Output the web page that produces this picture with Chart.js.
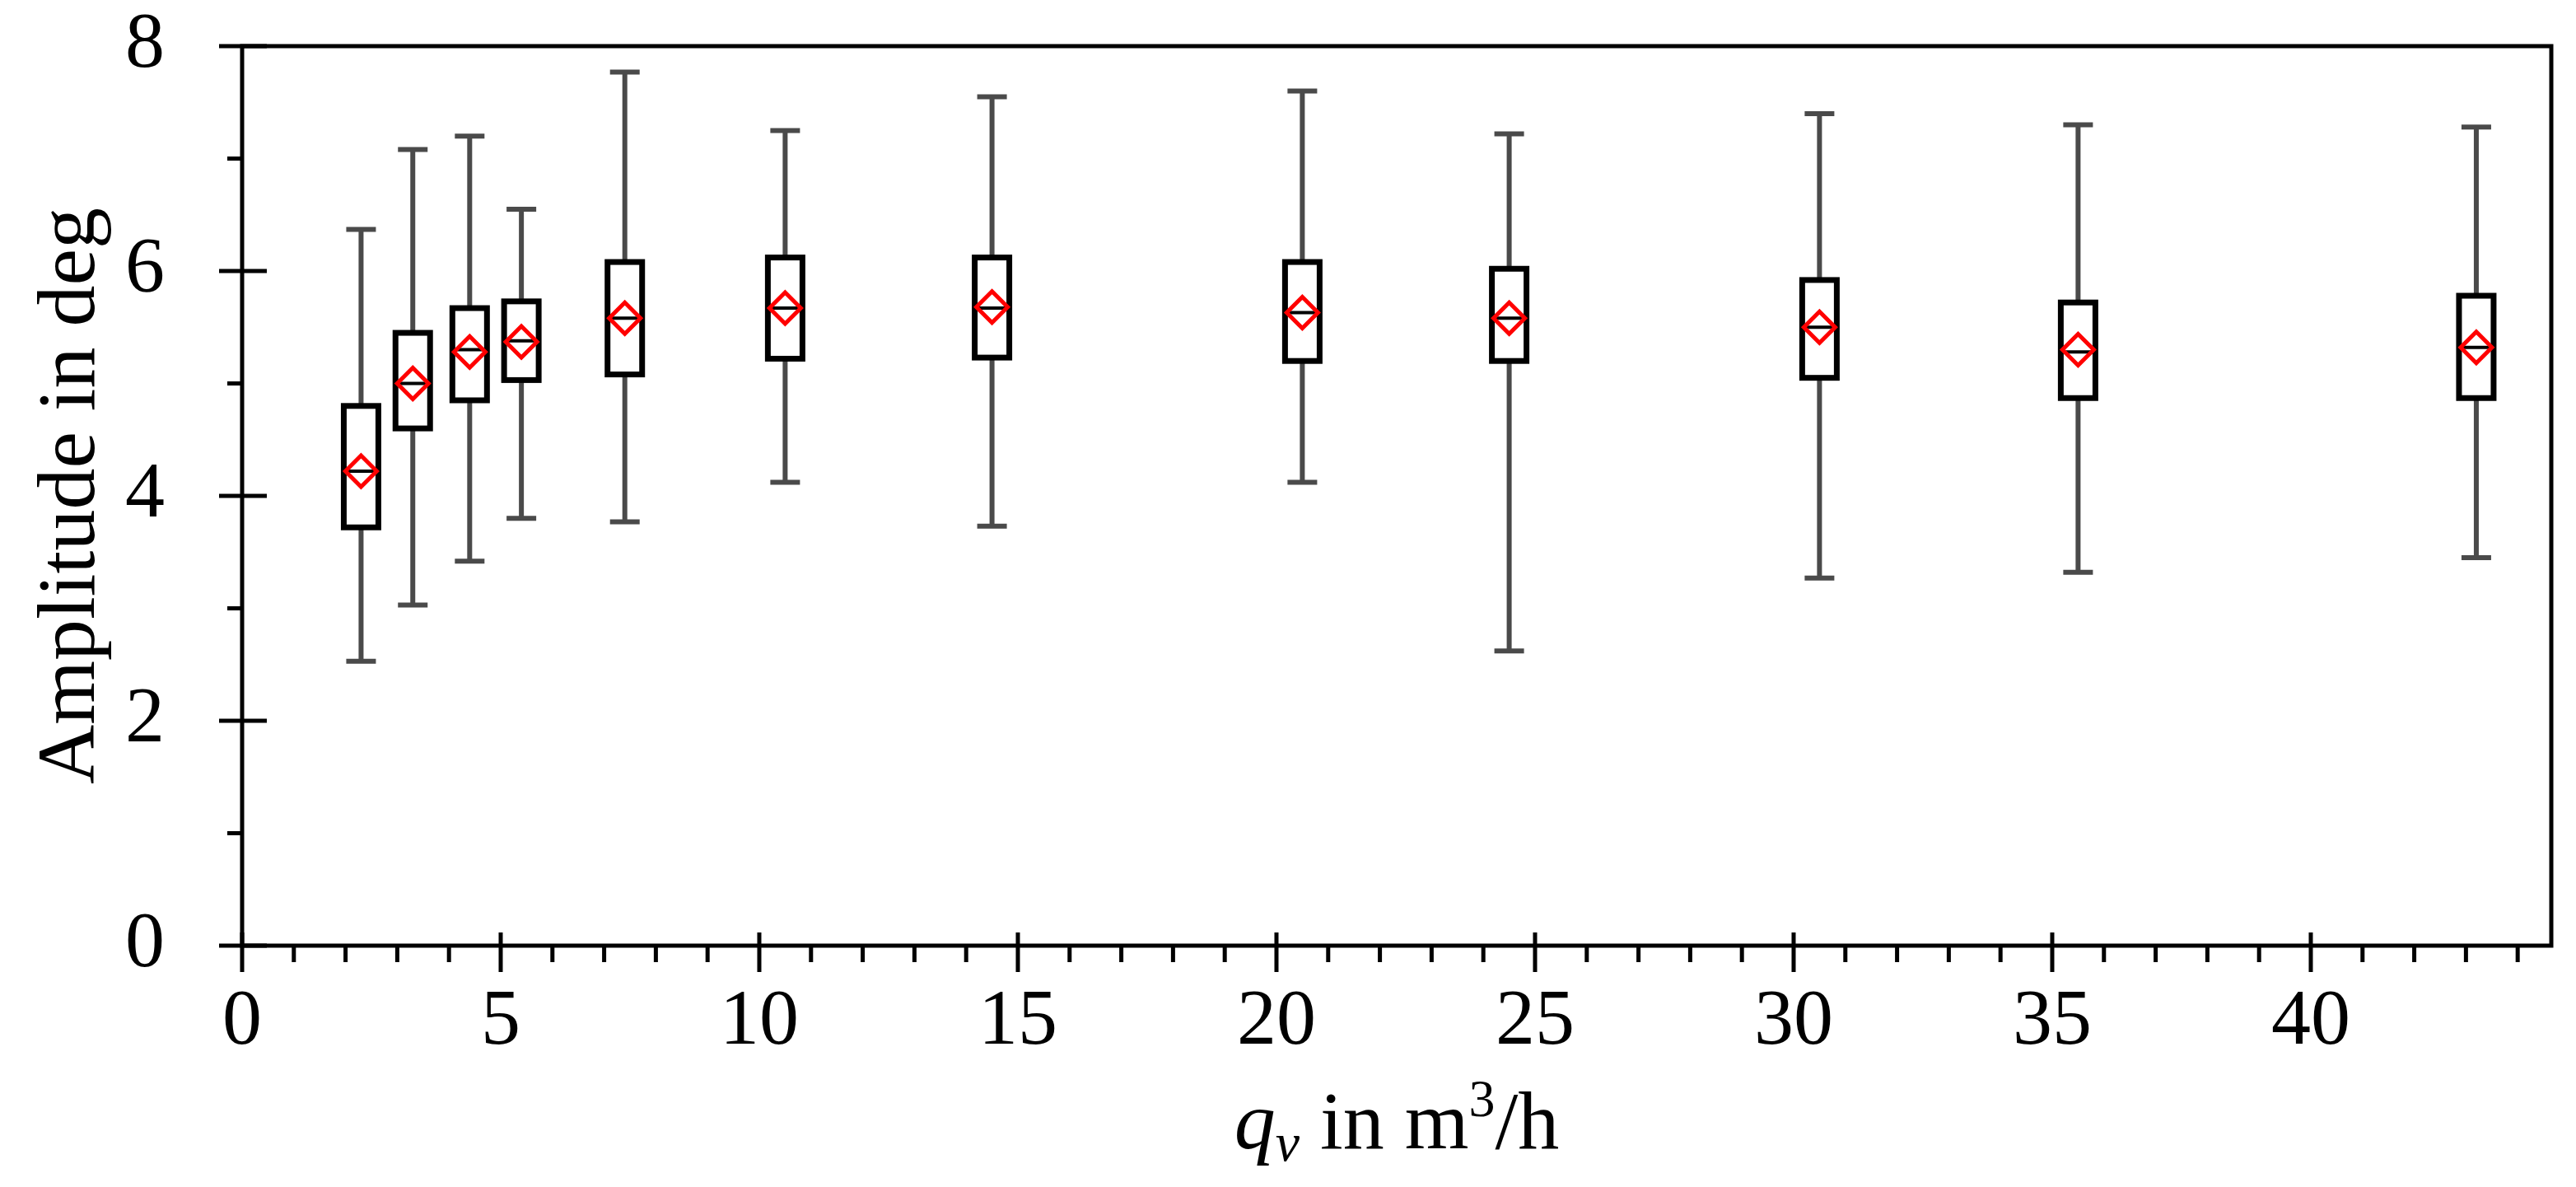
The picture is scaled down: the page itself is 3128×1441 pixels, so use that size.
<!DOCTYPE html>
<html><head><meta charset="utf-8">
<script src="https://cdn.jsdelivr.net/npm/chart.js@4/dist/chart.umd.min.js"></script>
<style>html,body{margin:0;padding:0;background:#fff}#w{width:3128px;height:1441px}</style>
</head><body><div id="w"><canvas id="c"></canvas></div>
<script>
const flowRates   = [2.3, 3.3, 4.4, 5.4, 7.4, 10.5, 14.5, 20.5, 24.5, 30.5, 35.5, 43.2];
const whiskerLow  = [2.53, 3.03, 3.42, 3.80, 3.77, 4.12, 3.73, 4.12, 2.62, 3.27, 3.32, 3.45];
const quart1      = [3.72, 4.60, 4.85, 5.03, 5.08, 5.22, 5.23, 5.20, 5.20, 5.05, 4.87, 4.87];
const medians     = [4.22, 5.00, 5.30, 5.38, 5.58, 5.67, 5.67, 5.63, 5.58, 5.50, 5.28, 5.32];
const quart3      = [4.80, 5.45, 5.67, 5.73, 6.08, 6.12, 6.12, 6.08, 6.02, 5.92, 5.72, 5.78];
const whiskerHigh = [6.37, 7.08, 7.20, 6.55, 7.77, 7.25, 7.55, 7.60, 7.22, 7.40, 7.30, 7.28];
const means       = [4.22, 5.00, 5.28, 5.37, 5.58, 5.67, 5.68, 5.63, 5.58, 5.50, 5.30, 5.32];
const xTicks = [0,5,10,15,20,25,30,35,40];
const yTicks = [0,2,4,6,8];

const FONT = '"Liberation Serif","Times New Roman",serif';
const boxPlugin = {
  id:'boxes',
  beforeDatasetsDraw(chart){
    const c=chart.ctx, xs=chart.scales.x, ys=chart.scales.y;
    c.save();
    flowRates.forEach((q,i)=>{
      const x=xs.getPixelForValue(q);
      const yl=ys.getPixelForValue(whiskerLow[i]), yh=ys.getPixelForValue(whiskerHigh[i]);
      const y1=ys.getPixelForValue(quart1[i]), y3=ys.getPixelForValue(quart3[i]);
      const ym=ys.getPixelForValue(medians[i]);
      c.strokeStyle='#4a4a4a'; c.lineWidth=6;
      c.beginPath();
      c.moveTo(x,yh); c.lineTo(x,y3); c.moveTo(x,y1); c.lineTo(x,yl);
      c.moveTo(x-18,yh); c.lineTo(x+18,yh); c.moveTo(x-18,yl); c.lineTo(x+18,yl);
      c.stroke();
      c.fillStyle='#fff'; c.fillRect(x-21,y3,42,y1-y3);
      c.strokeStyle='#000'; c.lineWidth=7; c.strokeRect(x-21,y3,42,y1-y3);
      c.lineWidth=4; c.beginPath(); c.moveTo(x-21,ym); c.lineTo(x+21,ym); c.stroke();
    });
    c.restore();
  },
  afterDraw(chart){
    const c=chart.ctx, xs=chart.scales.x, ys=chart.scales.y, a=chart.chartArea;
    c.save(); c.strokeStyle='#000'; c.lineWidth=5;
    c.strokeRect(a.left,a.top,a.right-a.left,a.bottom-a.top);
    c.beginPath();
    for(let v=0; v<=44; v++){
      const x=xs.getPixelForValue(v);
      if(v%5===0){c.moveTo(x,a.bottom-16);c.lineTo(x,a.bottom+32);}
      else {c.moveTo(x,a.bottom);c.lineTo(x,a.bottom+20);}
    }
    for(let v=0; v<=8; v++){
      const y=ys.getPixelForValue(v);
      if(v%2===0){c.moveTo(a.left-28,y);c.lineTo(a.left+30,y);}
      else {c.moveTo(a.left-18,y);c.lineTo(a.left,y);}
    }
    c.stroke();
    c.fillStyle='#000'; c.textBaseline='middle';
    c.save(); c.translate(88,(a.top+a.bottom)/2); c.rotate(-Math.PI/2);
    c.textAlign='center'; c.font='100px '+FONT; c.fillText('Amplitude in deg',0,0); c.restore();
    const parts=[['italic 100px '+FONT,'q',0],['italic 66px '+FONT,'v',24],['100px '+FONT,' in m',0],['64px '+FONT,'3',-30],['100px '+FONT,'/h',0]];
    let tw=0; parts.forEach(p=>{c.font=p[0]; tw+=c.measureText(p[1]).width;});
    let x=(a.left+a.right)/2-tw/2; const yb=1368; c.textAlign='left';
    parts.forEach(p=>{c.font=p[0]; c.fillText(p[1],x,yb+p[2]); x+=c.measureText(p[1]).width;});
    c.restore();
  }
};

new Chart(document.getElementById('c'),{
  type:'scatter',
  data:{datasets:[{
    data: flowRates.map((q,i)=>({x:q,y:means[i]})),
    pointStyle:'rectRot', pointRadius:19, pointBorderWidth:5,
    pointBorderColor:'#ff0000', pointBackgroundColor:'rgba(0,0,0,0)'
  }]},
  options:{
    responsive:true, maintainAspectRatio:false, animation:false, devicePixelRatio:1,
    layout:{padding:{top:56,right:30,left:0,bottom:0}},
    plugins:{legend:{display:false},tooltip:{enabled:false}},
    scales:{
      x:{type:'linear',min:0,max:44.65,grid:{display:false},border:{display:false},
         afterBuildTicks(s){s.ticks=xTicks.map(v=>({value:v}));},
         afterFit(s){s.height=1441-1148; s.paddingLeft=0; s.paddingRight=0;},
         ticks:{padding:28,color:'#000',font:{family:FONT,size:96},maxRotation:0}},
      y:{type:'linear',min:0,max:8,grid:{display:false},border:{display:false},
         afterBuildTicks(s){s.ticks=yTicks.map(v=>({value:v}));},
         afterFit(s){s.width=294; s.paddingTop=0; s.paddingBottom=0;},
         ticks:{padding:86,color:'#000',font:{family:FONT,size:96}}}
    }
  },
  plugins:[boxPlugin]
});
</script></body></html>
